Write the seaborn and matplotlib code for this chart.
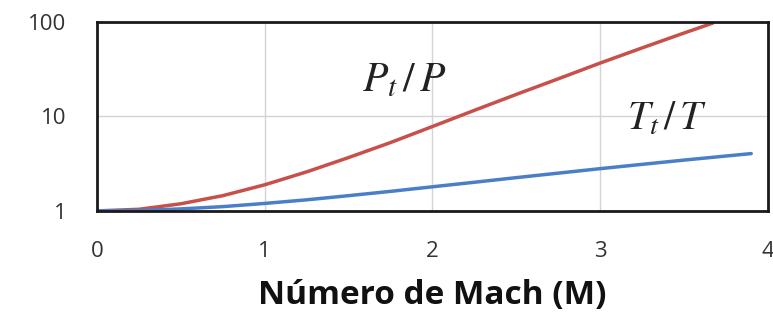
import numpy as np
import pandas as pd
import matplotlib
matplotlib.use('Agg')
import matplotlib.pyplot as plt
import seaborn as sns

# values
mach_p = [0, 0.25, 0.5, 0.75, 1.0, 1.25, 1.5, 1.75, 2.0, 2.25, 2.5, 2.75, 3.0, 3.25, 3.5, 3.67]
pt_p = [1.00, 1.04, 1.19, 1.45, 1.89, 2.59, 3.67, 5.29, 7.82, 11.6, 17.1, 25.0, 36.7, 53.1, 76.3, 97.0]

mach_t = [0, 0.25, 0.5, 0.75, 1.0, 1.25, 1.5, 1.75, 2.0, 2.25, 2.5, 2.75, 3.0, 3.25, 3.5, 3.75, 3.9]
tt_t = [1.00, 1.01, 1.05, 1.11, 1.20, 1.31, 1.45, 1.61, 1.80, 2.01, 2.25, 2.51, 2.80, 3.11, 3.45, 3.81, 4.04]

x_ticks = [0, 1, 2, 3, 4]
y_ticks = [1, 10, 100]
y_labels = ['1', '10', '100']

sns.set_style('white')
plt.rcParams['font.family'] = ['Open Sans', 'DejaVu Sans']
plt.rcParams['mathtext.fontset'] = 'stix'

fig = plt.figure(figsize=(7.73, 3.22), dpi=100)
ax = fig.add_axes([0.1255, 0.345, 0.868, 0.587])

df_p = pd.DataFrame({'M': mach_p, 'ratio': pt_p})
df_t = pd.DataFrame({'M': mach_t, 'ratio': tt_t})
sns.lineplot(data=df_p, x='M', y='ratio', color='#C8504A', lw=2.5, ax=ax)
sns.lineplot(data=df_t, x='M', y='ratio', color='#4A7FC8', lw=2.5, ax=ax)

ax.set_yscale('log')
ax.set_xlim(0, 4)
ax.set_ylim(1, 100)
ax.set_xticks(x_ticks)
ax.set_yticks(y_ticks)
ax.set_yticklabels(y_labels)
ax.minorticks_off()
ax.tick_params(length=0, labelsize=16, colors='#333333')
ax.tick_params(axis='x', pad=22)
ax.tick_params(axis='y', pad=22)
ax.grid(True, color='#d4d4d4', lw=1)
for s in ax.spines.values():
    s.set_color('#1a1a1a')
    s.set_linewidth(2)

ax.set_xlabel('Número de Mach (M)', fontsize=24, fontweight='bold', color='#111111', labelpad=12)
ax.set_ylabel('')

ax.text(1.58, 18.5, r'$P_t\,/\,P$', fontsize=30, color='#222222')
ax.text(3.16, 7.3, r'$T_t\,/\,T$', fontsize=29, color='#222222')

fig.savefig('out.png', dpi=100)
